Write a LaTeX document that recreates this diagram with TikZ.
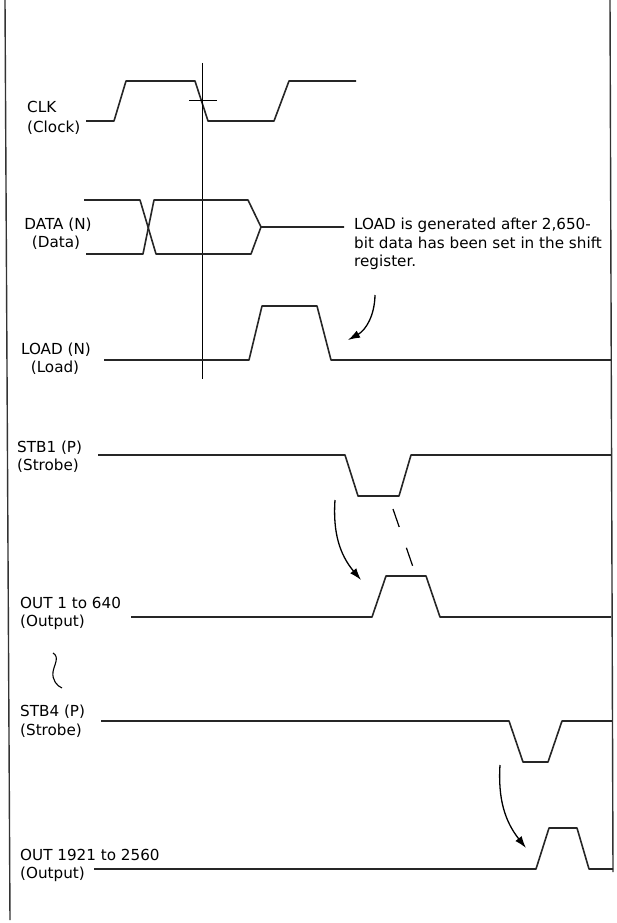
\documentclass[tikz,border=0pt]{standalone}
\usepackage{fontspec}
\setmainfont{DejaVu Sans}
\usetikzlibrary{arrows.meta}

\begin{document}
\begin{tikzpicture}[x=1pt,y=-1pt,
	wave/.style={line width=1.6pt,black!85,line join=round},
	frame/.style={line width=1.4pt,black!80},
	cursor/.style={line width=1pt},
	hint/.style={line width=1.3pt,-{Latex[length=12pt,width=8pt]}},
	dashline/.style={line width=1.2pt,dash pattern=on 19pt off 22pt}]
		\tikzstyle{every node}=[inner sep=0pt,font=\fontsize{15.2}{18.5}\selectfont];
		\tikzstyle{lbl}=[anchor=base west];
		\tikzstyle{clbl}=[anchor=base];
		\useasboundingbox (0,0) rectangle (616,923);
		\draw[frame] (5,0) -- (10,920);
		\draw[frame] (610,0) -- (613,872);
		\node[lbl] (clk) at (27,113) {CLK};
		\node[lbl] (clk2) at (27,132) {(Clock)};
		\node[clbl] (data) at (58,229) {DATA (N)};
		\node[clbl] (data2) at (56,247) {(Data)};
		\node[clbl] (load) at (56,354) {LOAD (N)};
		\node[clbl] (load2) at (55,372) {(Load)};
		\node[lbl] (stba) at (17,452) {STB1 (P)};
		\node[lbl] (stba2) at (17,470) {(Strobe)};
		\node[lbl] (outa) at (20,608) {OUT 1 to 640};
		\node[lbl] (outa2) at (20,626) {(Output)};
		\node[lbl] (stbd) at (20,716) {STB4 (P)};
		\node[lbl] (stbd2) at (20,735) {(Strobe)};
		\node[lbl] (outd) at (20,860) {OUT 1921 to 2560};
		\node[lbl] (outd2) at (20,878) {(Output)};
		\node[lbl] (note) at (354,229) {LOAD is generated after 2,650-};
		\node[lbl] (note2) at (354,248) {bit data has been set in the shift};
		\node[lbl] (note3) at (354,266) {register.};
		\draw[wave] (86,121) -- (114,121) -- (126,81) -- (195,81) -- (208,121) -- (274,121) -- (289,81) -- (356,81);
		\draw[cursor] (202,63) -- (202,379);
		\draw[cursor] (189,101) -- (217,101);
		\draw[wave] (84,200) -- (140,200) -- (156,254) -- (251,254) -- (261,227) -- (344,227);
		\draw[wave] (86,254) -- (143,254) -- (154,200) -- (248,200) -- (261,227);
		\draw[wave] (104,360) -- (249,360) -- (262,306) -- (317,306) -- (331,360) -- (611,360);
		\draw[wave] (98,455) -- (345,455) -- (358,496) -- (399,496) -- (411,455) -- (611,455);
		\draw[wave] (131,617) -- (372,617) -- (386,576) -- (426,576) -- (440,617) -- (611,617);
		\draw[wave] (101,721) -- (509,721) -- (523,762) -- (548,762) -- (562,721) -- (612,721);
		\draw[wave] (94,869) -- (536,869) -- (549,828) -- (577,828) -- (589,869) -- (613,869);
		\coordinate (ldfrom) at (375,295);
		\coordinate (ldto) at (348,340);
		\coordinate (safrom) at (335,500);
		\coordinate (sato) at (361,580);
		\coordinate (dsfrom) at (393,509);
		\coordinate (dsto) at (413,567);
		\coordinate (sdfrom) at (500,765);
		\coordinate (sdto) at (526,848);
		\coordinate (gapa) at (53,653);
		\coordinate (gapb) at (62,688);
		\draw[hint] (ldfrom) to[bend left=30] (ldto);
		\draw[hint] (safrom) to[bend right=22] (sato);
		\draw[hint] (sdfrom) to[bend right=21] (sdto);
		\draw[dashline] (dsfrom) -- (dsto);
		\draw[line width=1.1pt] (gapa) .. controls (60,657) and (54,665) .. (53,672) .. controls (52,680) and (57,686) .. (gapb);
\end{tikzpicture}
\end{document}
